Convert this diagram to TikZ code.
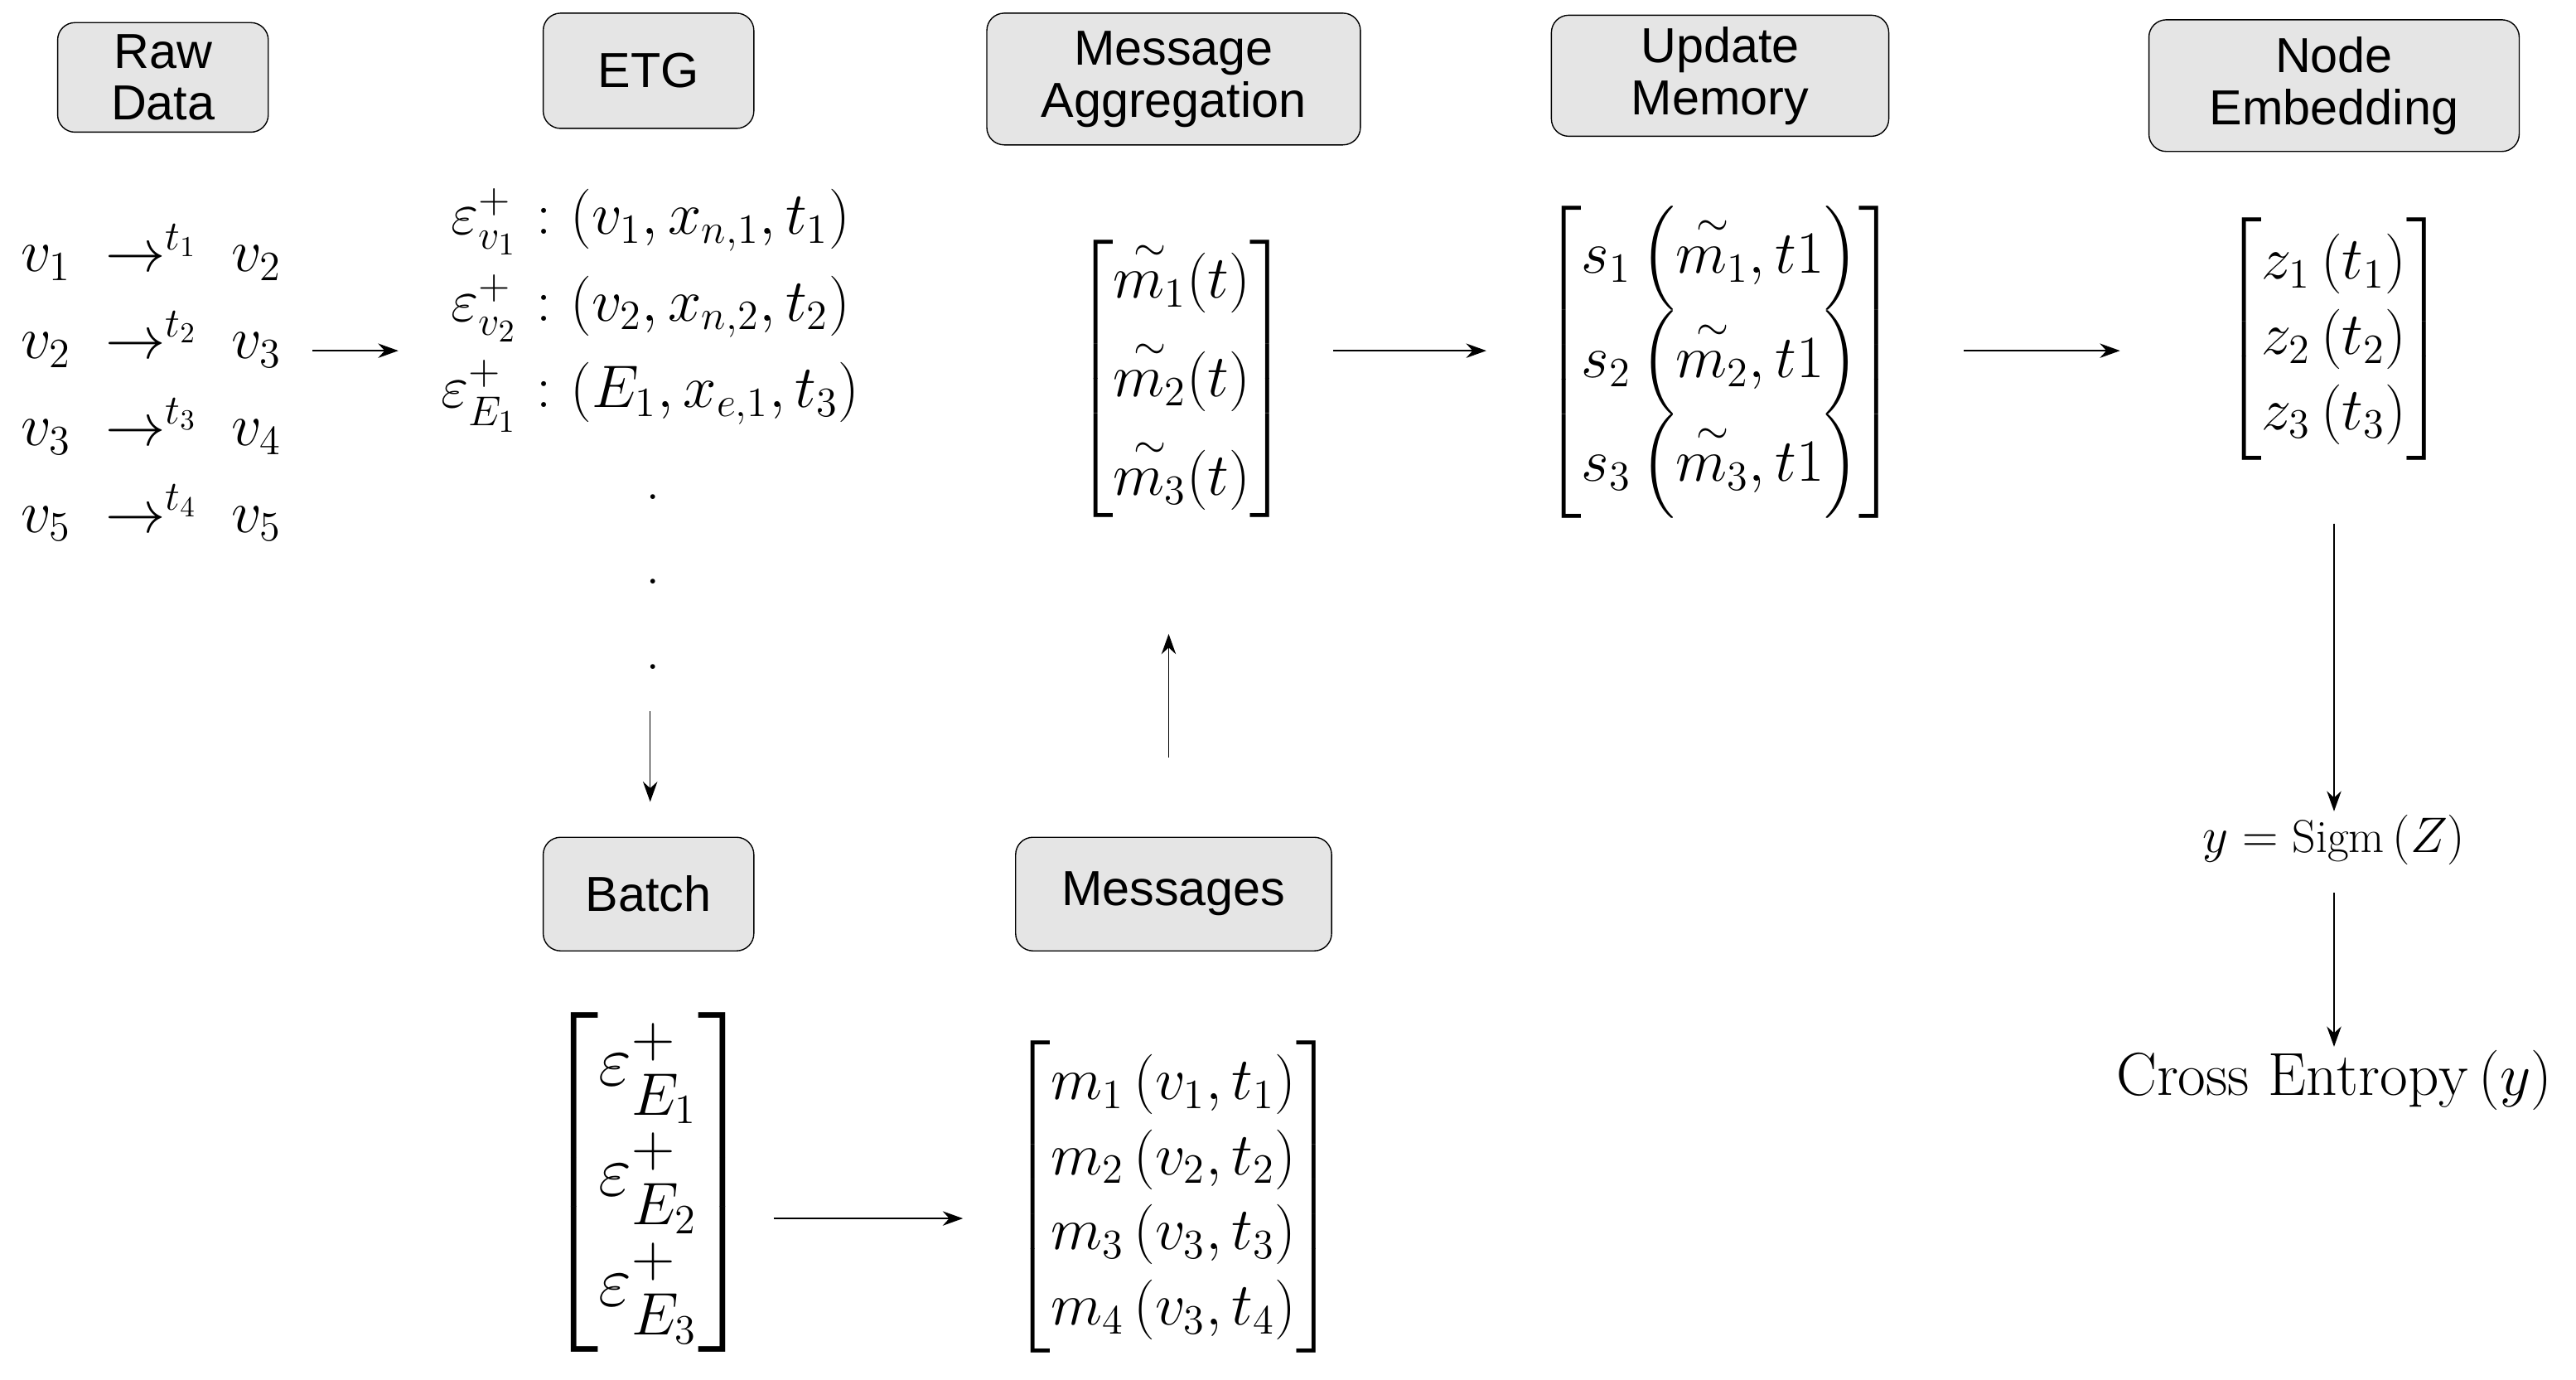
\documentclass[tikz,border=0pt]{standalone}
\usepackage{amsmath,amssymb}
\usepackage{fontspec}
\newfontfamily\boxfont{Liberation Sans}
\usetikzlibrary{arrows.meta, positioning}
\tikzstyle{stage} = [rectangle, rounded corners=6pt, draw=black, fill=gray!20, align=center, inner sep=4pt, font=\boxfont\fontsize{17}{19}\selectfont]
\tikzstyle{formula} = [align=center, inner sep=1pt, font=\fontsize{20}{26}\selectfont]
\tikzstyle{arrow} = [thin,-{Stealth[length=7pt,width=5pt]}]

\begin{document}
\begin{tikzpicture}[x=0.02cm, y=-0.02cm]
    \useasboundingbox (0,0) rectangle (1565,838);
    % stage headers
    \node (raw) [stage, minimum width=2.56cm, minimum height=1.3cm] at (99,47) {Raw\\[-1pt]Data};
    \node (etg) [stage, minimum width=2.56cm, minimum height=1.4cm] at (394,43) {ETG};
    \node (agg) [stage, minimum width=4.54cm, minimum height=1.6cm] at (713,48) {Message\\[-1pt]Aggregation};
    \node (upd) [stage, minimum width=4.1cm, minimum height=1.44cm] at (1045,46) {Update\\[-1pt]Memory};
    \node (emb) [stage, minimum width=4.5cm, minimum height=1.6cm] at (1418,52) {Node\\[-1pt]Embedding};
    \node (batch) [stage, minimum width=2.56cm, minimum height=1.38cm] at (394,543) {Batch};
    \node (msgs) [stage, minimum width=3.84cm, minimum height=1.38cm] at (713,543) {Messages};

    % contents
    \node (rawdata) [formula] at (92,235) {$\begin{array}{l}
        v_1\ \rightarrow^{t_1}\ v_2\\[4pt] v_2\ \rightarrow^{t_2}\ v_3\\[4pt]
        v_3\ \rightarrow^{t_3}\ v_4\\[4pt] v_5\ \rightarrow^{t_4}\ v_5\end{array}$};
    \node (events) [formula, font=\fontsize{22}{28}\selectfont] at (395,185) {$\begin{array}{r@{\ :\ }l}
        \varepsilon^{+}_{v_1} & (v_1, x_{n,1}, t_1)\\[2pt]
        \varepsilon^{+}_{v_2} & (v_2, x_{n,2}, t_2)\\[2pt]
        \varepsilon^{+}_{E_1} & (E_1, x_{e,1}, t_3)\end{array}$};
    \node (dot1) [formula] at (397,302) {.};
    \node (dot2) [formula] at (397,353) {.};
    \node (dot3) [formula] at (397,405) {.};
    \node (batchm) [formula, font=\fontsize{28}{32}\selectfont] at (394,718) {$\begin{bmatrix}
        \varepsilon^{+}_{E_1}\\[6pt] \varepsilon^{+}_{E_2}\\[6pt] \varepsilon^{+}_{E_3}\end{bmatrix}$};
    \node (msgsm) [formula] at (713,727) {$\begin{bmatrix}
        m_1\left(v_1, t_1\right)\\ m_2\left(v_2, t_2\right)\\
        m_3\left(v_3, t_3\right)\\ m_4\left(v_3, t_4\right)\end{bmatrix}$};
    \node (aggm) [formula] at (718,230) {$\begin{bmatrix}
        \overset{\sim}{m_1}(t)\\[6pt] \overset{\sim}{m_2}(t)\\[6pt] \overset{\sim}{m_3}(t)\end{bmatrix}$};
    \node (updm) [formula] at (1045,220) {$\begin{bmatrix}
        s_1\left(\overset{\sim}{m_1}, t1\right)\\[4pt] s_2\left(\overset{\sim}{m_2}, t1\right)\\[4pt]
        s_3\left(\overset{\sim}{m_3}, t1\right)\end{bmatrix}$};
    \node (embm) [formula] at (1418,206) {$\begin{bmatrix}
        z_1\left(t_1\right)\\ z_2\left(t_2\right)\\ z_3\left(t_3\right)\end{bmatrix}$};
    \node (sigm) [formula, font=\fontsize{16}{20}\selectfont] at (1418,510) {$y = \mathrm{Sigm}\left(Z\right)$};
    \node (loss) [formula, font=\fontsize{21}{24}\selectfont] at (1418,656) {$\mathrm{Cross\ Entropy}\left(y\right)$};

    % connector ends
    \coordinate (rawout) at (190,213);
    \coordinate (etgin) at (242,213);
    \coordinate (etgout) at (395,432);
    \coordinate (batchin) at (395,487);
    \coordinate (batchout) at (470,740);
    \coordinate (msgsin) at (585,740);
    \coordinate (msgsout) at (710,460);
    \coordinate (aggin) at (710,385);
    \coordinate (aggout) at (810,213);
    \coordinate (updin) at (903,213);
    \coordinate (updout) at (1193,213);
    \coordinate (embin) at (1288,213);
    \coordinate (embout) at (1418,318);

    % flow
    \draw [arrow] (rawout) -- (etgin);
    \draw [arrow] (etgout) -- (batchin);
    \draw [arrow] (batchout) -- (msgsin);
    \draw [arrow] (msgsout) -- (aggin);
    \draw [arrow] (aggout) -- (updin);
    \draw [arrow] (updout) -- (embin);
    \draw [arrow] (embout) -- (sigm.north);
    \draw [arrow] (sigm.south) ++(0,15) -- (loss.north);
\end{tikzpicture}
\end{document}
